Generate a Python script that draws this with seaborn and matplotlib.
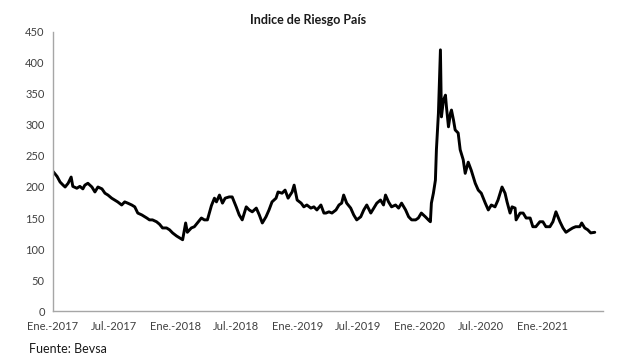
import pandas as pd
import seaborn as sns
import matplotlib.pyplot as plt

# dias desde 2017-01-01 y valor del indice
dias = [0, 12, 21, 30, 36, 45, 54, 59, 71, 80, 89, 95, 104, 116, 125, 134, 146, 155, 164, 175,
        184, 193, 205, 214, 223, 235, 244, 253, 265, 274,
        280, 288, 297, 309, 318, 327, 339, 348, 357, 369, 378, 387, 396, 401, 413, 422, 431, 443,
        452, 461, 473, 482, 488, 497, 506, 514, 526,
        535, 547, 556, 565, 577, 586, 595, 607, 616, 625, 636, 645, 654, 666, 672, 684, 693, 702,
        714, 720, 729, 741, 749, 758, 770, 779, 788, 800, 809,
        815, 824, 833, 845, 854, 862, 868, 877, 889, 898, 907, 919, 928, 937, 949, 958, 967, 978,
        987, 993, 1002, 1011, 1023, 1032, 1041, 1053, 1062, 1071,
        1083, 1091, 1100, 1112, 1121, 1127, 1130, 1136, 1142, 1145, 1151, 1157, 1160, 1166, 1172,
        1175, 1181, 1187, 1190, 1196, 1201, 1210, 1216, 1225, 1231, 1240, 1249, 1261, 1270, 1279,
        1291, 1300, 1309, 1320, 1329, 1341, 1350, 1356, 1365, 1371, 1380, 1383, 1395, 1404, 1413,
        1425, 1433, 1442, 1454, 1463, 1472, 1484, 1493, 1502, 1514, 1523, 1532, 1543, 1552, 1561,
        1573, 1579, 1588, 1597, 1606, 1618]
riesgo = [225, 217, 208, 203, 200, 206, 216, 201, 198, 201, 197, 203, 206, 200, 192, 200, 197, 190, 187, 182,
          179, 176, 171, 176, 174, 171, 168, 158, 155, 152,
          150, 147, 147, 144, 140, 134, 134, 131, 126, 121, 118, 115, 142, 127, 134, 136, 142, 150,
          147, 147, 170, 182, 176, 187, 174, 182, 184,
          184, 168, 155, 147, 168, 163, 160, 166, 155, 142, 152, 163, 176, 182, 192, 190, 195, 182,
          192, 203, 179, 174, 168, 171, 166, 168, 163, 171, 158,
          158, 160, 158, 163, 171, 174, 187, 174, 166, 155, 147, 152, 163, 171, 158, 166, 174, 179,
          171, 187, 176, 168, 171, 166, 174, 163, 152, 147,
          147, 150, 158, 152, 147, 144, 174, 190, 211, 260, 319, 421, 313, 340, 348,
          329, 297, 319, 324, 308, 292, 287, 260, 244, 222, 240, 227, 206, 195, 190,
          174, 163, 171, 168, 179, 200, 190, 176, 158, 168, 166, 147, 158, 158, 150,
          150, 136, 136, 144, 144, 136, 136, 144, 160, 144, 134, 127, 131, 134, 136,
          136, 142, 134, 131, 126, 127]

df = pd.DataFrame({
    'fecha': pd.Timestamp('2017-01-01') + pd.to_timedelta(dias, unit='D'),
    'riesgo': riesgo,
})

etiquetas = ['Ene.-2017', 'Jul.-2017', 'Ene.-2018', 'Jul.-2018', 'Ene.-2019',
             'Jul.-2019', 'Ene.-2020', 'Jul.-2020', 'Ene.-2021']
fechas_ticks = pd.to_datetime(['2017-01-01', '2017-07-01', '2018-01-01', '2018-07-01', '2019-01-01',
                               '2019-07-01', '2020-01-01', '2020-07-01', '2021-01-01'])

sns.set_style('white')
plt.rcParams['font.family'] = ['Lato', 'DejaVu Sans']

fig, ax = plt.subplots(figsize=(6.17, 3.58), dpi=100)
fig.subplots_adjust(left=0.086, right=0.977, top=0.911, bottom=0.131)

sns.lineplot(data=df, x='fecha', y='riesgo', color='black', linewidth=2.1, ax=ax)

ax.set_xlim(pd.Timestamp('2017-01-01'), pd.Timestamp('2021-07-01'))
ax.set_ylim(0, 450)
ax.set_yticks(range(0, 451, 50))
ax.set_xticks(fechas_ticks)
ax.set_xticklabels(etiquetas)
ax.set_xlabel('')
ax.set_ylabel('')

for lado in ['top', 'right']:
    ax.spines[lado].set_visible(False)
for lado in ['left', 'bottom']:
    ax.spines[lado].set_color('#a6a6a6')
    ax.spines[lado].set_linewidth(1)
ax.tick_params(axis='both', colors='#a6a6a6', labelcolor='#404040', labelsize=8,
               length=3, width=1, direction='out', pad=3)
ax.tick_params(axis='x', pad=4)

fig.text(0.5, 0.945, 'Indice de Riesgo País', ha='center', va='center',
         fontsize=9, fontweight='bold', color='#1a1a1a')
fig.text(0.047, 0.025, 'Fuente: Bevsa', ha='left', va='center', fontsize=9, color='#1a1a1a')

fig.savefig('out.png', dpi=100)
